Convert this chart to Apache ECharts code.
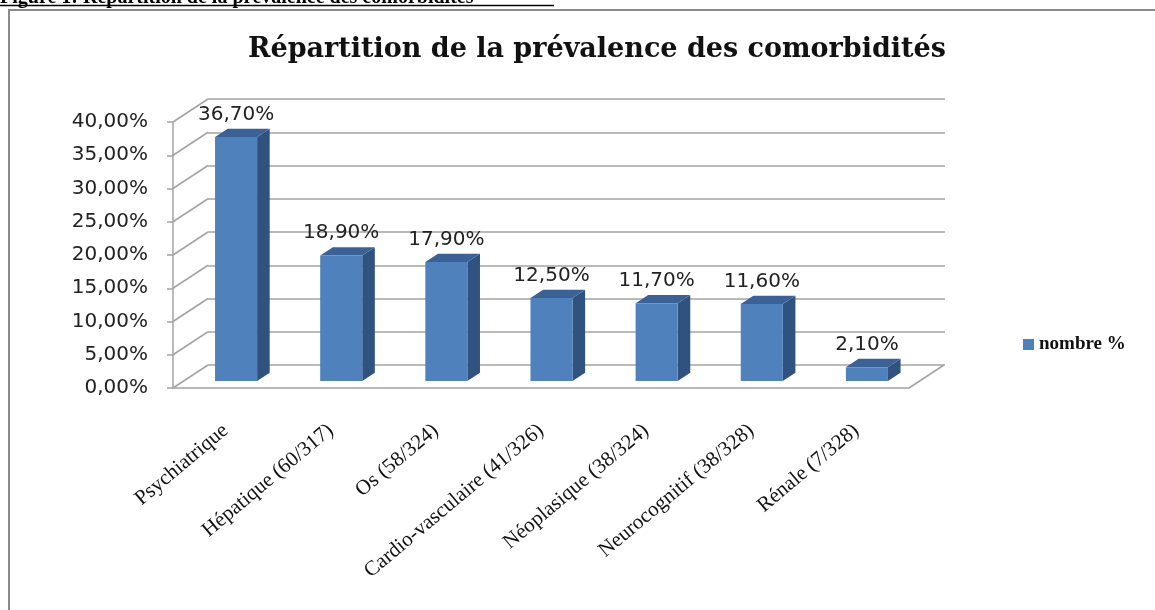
<!DOCTYPE html>
<html>
<head>
    <meta charset="utf-8"/>
    <title>Répartition de la prévalence des comorbidités</title>
    <style>
        html, body { margin: 0; padding: 0; background: #fff; }
        #main { width: 1155px; height: 610px; }
    </style>
</head>
<body>
<div id="main"></div>
<script src="https://cdn.jsdelivr.net/npm/echarts/dist/echarts.min.js"></script>
<script>
    // données
    var categories = ['Psychiatrique', 'Hépatique (60/317)', 'Os (58/324)', 'Cardio-vasculaire (41/326)',
        'Néoplasique (38/324)', 'Neurocognitif (38/328)', 'Rénale (7/328)'];
    var values = [36.7, 18.9, 17.9, 12.5, 11.7, 11.6, 2.1];
    var yTicks = [0, 5, 10, 15, 20, 25, 30, 35, 40];
    var seriesName = 'nombre %';

    // profondeur de la perspective (pixels)
    var DX = 35, DY = -23;

    function pct(v) {
        return v.toFixed(2).replace('.', ',') + '%';
    }

    var connectorData = [];
    for (var i = 0; i < yTicks.length; i++) {
        connectorData.push([0, yTicks[i]]);
    }
    var barData = [];
    for (var j = 0; j < values.length; j++) {
        barData.push([j, values[j]]);
    }

    var gridColor = '#a3a3a3';

    var option = {
        animation: false,
        title: {
            text: 'Répartition de la prévalence des comorbidités',
            left: 592,
            top: 31,
            textAlign: 'center',
            textStyle: {
                fontFamily: 'DejaVu Serif',
                fontWeight: 'bold',
                fontSize: 27,
                color: '#111'
            }
        },
        legend: {
            left: 1018,
            top: 330,
            icon: 'rect',
            itemWidth: 11,
            itemHeight: 11,
            itemGap: 6,
            data: [seriesName],
            textStyle: {
                fontFamily: 'Liberation Serif',
                fontWeight: 'bold',
                fontSize: 19,
                color: '#111'
            }
        },
        graphic: [
            {
                type: 'rect',
                shape: { x: 9, y: 10, width: 1170, height: 620 },
                style: { fill: 'none', stroke: '#8a8a8a', lineWidth: 2 },
                silent: true
            },
            {
                type: 'text',
                left: 0,
                top: -12,
                style: {
                    text: 'Figure 1: Répartition de la prévalence des comorbidités',
                    font: 'bold 20px "Liberation Serif"',
                    fill: '#000'
                },
                silent: true
            },
            {
                type: 'line',
                shape: { x1: 0, y1: 5.5, x2: 554, y2: 5.5 },
                style: { stroke: '#000', lineWidth: 1.5 },
                silent: true
            }
        ],
        grid: [
            { left: 173, top: 122, width: 736, height: 266 },
            { left: 173 + DX, top: 122 + DY, width: 737, height: 266 }
        ],
        xAxis: [
            {
                type: 'category',
                gridIndex: 0,
                data: categories,
                axisLine: { lineStyle: { color: gridColor, width: 1.5 } },
                axisTick: { length: 6, lineStyle: { color: gridColor, width: 1.5 } },
                axisLabel: {
                    rotate: 40,
                    margin: 40,
                    interval: 0,
                    fontFamily: 'Liberation Serif',
                    fontSize: 21,
                    color: '#111'
                }
            },
            {
                type: 'value',
                gridIndex: 1,
                show: false
            }
        ],
        yAxis: [
            {
                type: 'value',
                gridIndex: 0,
                min: 0,
                max: 40,
                interval: 5,
                axisLine: { show: true, lineStyle: { color: gridColor, width: 1.5 } },
                axisTick: { show: true, length: 6, lineStyle: { color: gridColor, width: 1.5 } },
                splitLine: { show: false },
                axisLabel: {
                    margin: 25,
                    fontFamily: 'DejaVu Sans',
                    fontSize: 20,
                    color: '#222',
                    formatter: function (v) { return pct(v); }
                }
            },
            {
                type: 'value',
                gridIndex: 1,
                min: 0,
                max: 40,
                interval: 5,
                axisLine: { show: false },
                axisTick: { show: false },
                axisLabel: { show: false },
                splitLine: { show: true, lineStyle: { color: gridColor, width: 1.5 } }
            }
        ],
        series: [
            {
                // liaisons entre l'axe avant et la paroi du fond
                type: 'custom',
                xAxisIndex: 0,
                yAxisIndex: 0,
                silent: true,
                z: 1,
                data: connectorData,
                renderItem: function (params, api) {
                    var cs = params.coordSys;
                    var y = api.coord([0, api.value(1)])[1];
                    var children = [{
                        type: 'line',
                        shape: { x1: cs.x, y1: y, x2: cs.x + DX, y2: y + DY },
                        style: { stroke: gridColor, lineWidth: 1.5 }
                    }];
                    if (api.value(1) === 0) {
                        children.push({
                            type: 'line',
                            shape: { x1: cs.x + cs.width, y1: y, x2: cs.x + cs.width + DX, y2: y + DY },
                            style: { stroke: gridColor, lineWidth: 1.5 }
                        });
                    }
                    return { type: 'group', children: children };
                }
            },
            {
                name: seriesName,
                type: 'custom',
                xAxisIndex: 0,
                yAxisIndex: 0,
                z: 5,
                itemStyle: { color: '#4f81bd' },
                data: barData,
                renderItem: function (params, api) {
                    var top = api.coord([api.value(0), api.value(1)]);
                    var base = api.coord([api.value(0), 0]);
                    var bw = api.size([1, 0])[0];
                    var w = bw * 0.4;
                    var fx = DX * 0.3, fy = DY * 0.3;
                    var dx = DX * 0.36, dy = DY * 0.36;
                    var x0 = top[0] - w / 2 + fx;
                    var x1 = top[0] + w / 2 + fx;
                    var yt = top[1] + fy;
                    var yb = base[1] + fy;
                    return {
                        type: 'group',
                        children: [
                            {
                                type: 'polygon',
                                shape: { points: [[x1, yt], [x1 + dx, yt + dy], [x1 + dx, yb + dy], [x1, yb]] },
                                style: { fill: '#30527f' }
                            },
                            {
                                type: 'polygon',
                                shape: { points: [[x0, yt], [x1, yt], [x1 + dx, yt + dy], [x0 + dx, yt + dy]] },
                                style: { fill: '#3b6296' }
                            },
                            {
                                type: 'rect',
                                shape: { x: x0, y: yt, width: w, height: yb - yt },
                                style: { fill: '#4f81bd' }
                            },
                            {
                                type: 'text',
                                style: {
                                    x: (x0 + x1) / 2,
                                    y: yt + dy - 4,
                                    text: pct(api.value(1)),
                                    font: '20px "DejaVu Sans"',
                                    fill: '#222',
                                    align: 'center',
                                    verticalAlign: 'bottom'
                                }
                            }
                        ]
                    };
                }
            }
        ]
    };

    var myChart = echarts.init(document.getElementById('main'));
    myChart.setOption(option);
</script>
</body>
</html>
